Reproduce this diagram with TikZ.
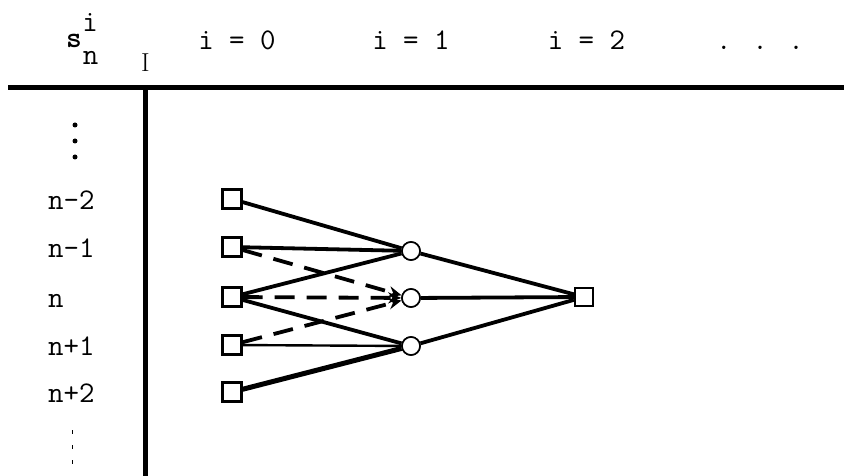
\documentclass[tikz,border=0pt]{standalone}
\usetikzlibrary{arrows.meta}
\begin{document}
\begin{tikzpicture}[x=1pt,y=-1pt,
  lbl/.style={font=\ttfamily\fontsize{30}{30}\selectfont, inner sep=0pt, anchor=base},
  rowlbl/.style={lbl, anchor=base west},
  sq/.style={draw, line width=2.2pt, minimum size=19pt, inner sep=0pt, fill=white},
  circ/.style={draw, circle, line width=1.6pt, minimum size=18pt, inner sep=0pt, fill=white},
  edge/.style={line width=3.8pt},
  dashedge/.style={line width=3.8pt, dash pattern=on 20pt off 12pt, -{Stealth[length=13pt,width=11pt]}}
]
\useasboundingbox (0,0) rectangle (844,476);

% table header
\node[lbl] (s) at (74,48) {\bfseries s};
\node[lbl] (sup) at (90,32) {i};
\node[lbl] (sub) at (90.5,65) {n};
\node[font=\fontsize{26}{26}\selectfont, inner sep=0pt, anchor=base] (bar) at (145.5,72) {I};
\node[lbl] (h0) at (237,50) {i = 0};
\node[lbl] (h1) at (411,50) {i = 1};
\node[lbl] (h2) at (586.5,50) {i = 2};
\node[lbl] (h3) at (760,50) {. . .};

% rules
\coordinate (hl) at (8,87.5);
\coordinate (hr) at (844,87.5);
\coordinate (vt) at (145.5,87.5);
\coordinate (vb) at (145.5,476);
\draw[line width=5pt] (hl) -- (hr);
\draw[line width=5pt] (vt) -- (vb);

% row labels
\foreach \y in {125,141,157} \fill (75,\y) circle (2.5pt);
\node[rowlbl] (rm2) at (48,209) {n-2};
\node[rowlbl] (rm1) at (48,257) {n-1};
\node[rowlbl] (r0)  at (48,307) {n};
\node[rowlbl] (rp1) at (48,355) {n+1};
\node[rowlbl] (rp2) at (48,402) {n+2};
\foreach \y in {432,447,462} \draw[line width=1pt] (72,\y-2) -- (72,\y+2);

% states at i = 0
\node[sq] (a1) at (232,199) {};
\node[sq] (a2) at (232,247) {};
\node[sq] (a3) at (232,297) {};
\node[sq] (a4) at (232,345) {};
\node[sq] (a5) at (232,392) {};
% states at i = 1
\node[circ] (b1) at (411,251) {};
\node[circ] (b2) at (411,298) {};
\node[circ] (b3) at (411,346) {};
% state at i = 2
\node[sq, minimum size=18pt] (c) at (584,297) {};

% solid transitions
\draw[edge] (a1) -- (b1);
\draw[edge] (a2) -- (b1);
\draw[edge] (a3) -- (b1);
\draw[edge] (a3) -- (b3);
\draw[line width=2.4pt] (a4) -- (b3);
\draw[line width=5pt] (a5) -- (b3);
\draw[edge] (b1) -- (c);
\draw[edge] (b2) -- (c);
\draw[edge] (b3) -- (c);

% dashed transitions
\draw[dashedge] (a2) -- (b2);
\draw[dashedge] (a3) -- (b2);
\draw[dashedge] (a4) -- (b2);

% redraw nodes on top of line ends
\foreach \n in {a1,a2,a3,a4,a5} \node[sq] at (\n) {};
\foreach \n in {b1,b2,b3} \node[circ] at (\n) {};
\node[sq, minimum size=18pt] at (c) {};
\end{tikzpicture}
\end{document}
